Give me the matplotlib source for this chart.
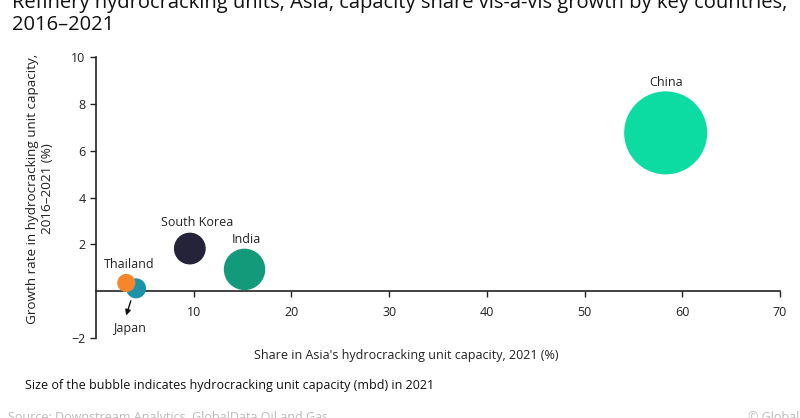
import matplotlib
matplotlib.use('Agg')
import matplotlib.pyplot as plt

# data
countries = ['Japan', 'Thailand', 'South Korea', 'India', 'China']
share_2021 = [4.1, 3.1, 9.6, 15.2, 58.3]          # % of Asia's capacity
growth = [0.12, 0.35, 1.82, 0.93, 6.76]           # % 2016-2021
capacity_mbd = [0.17, 0.14, 0.43, 0.73, 2.93]      # bubble size
colours = ['#1b93a9', '#f5862b', '#24233a', '#139a7b', '#0cdca2']

x_ticks = [10, 20, 30, 40, 50, 60, 70]
y_ticks = [-2, 2, 4, 6, 8, 10]

title_1 = 'Refinery hydrocracking units, Asia, capacity share vis-\u00e0-vis growth by key countries,'
title_2 = '2016\u20132021'

plt.rcParams['font.family'] = ['Open Sans', 'DejaVu Sans']

fig = plt.figure(figsize=(8, 4.18), dpi=100)
ax = fig.add_axes([0.12, 0.1914, 0.855, 0.6722])

ax.scatter(share_2021, growth, s=[c * 1220 for c in capacity_mbd], c=colours,
           edgecolors='none', zorder=3)

ax.set_xlim(0, 70)
ax.set_ylim(-2, 10)
ax.set_xticks(x_ticks)
ax.set_yticks(y_ticks)
ax.tick_params(labelsize=9, colors='#222222', length=4, width=1)
ax.tick_params(axis='x', pad=7)

ax.spines['top'].set_visible(False)
ax.spines['right'].set_visible(False)
ax.spines['bottom'].set_position(('data', 0))
for sp in ['left', 'bottom']:
    ax.spines[sp].set_linewidth(1.2)
    ax.spines[sp].set_color('#222222')

# labels next to bubbles
lab = dict(fontsize=9, color='#222222', ha='center', va='center')
ax.text(share_2021[4], 8.9, 'China', **lab)
ax.text(10.3, 2.95, 'South Korea', **lab)
ax.text(15.4, 2.2, 'India', **lab)
ax.text(3.4, 1.15, 'Thailand', **lab)
ax.text(3.4, -1.6, 'Japan', **lab)
ax.annotate('', xy=(3.0, -1.15), xytext=(3.65, -0.3),
            arrowprops=dict(arrowstyle='-|>', color='#111111', lw=1, mutation_scale=8))

ax.set_xlabel("Share in Asia's hydrocracking unit capacity, 2021 (%)", fontsize=9,
              color='#222222', labelpad=0)
ax.xaxis.set_label_coords(0.454, -0.04)
ax.set_ylabel('Growth rate in hydrocracking unit capacity,\n2016\u20132021 (%)', fontsize=9.7,
              color='#222222', linespacing=1.15)
ax.yaxis.set_label_coords(-0.062, 0.53)

fig.text(12 / 800, 1 - 8 / 418, title_1, fontsize=14.5, color='#111111', va='baseline')
fig.text(12 / 800, 1 - 30 / 418, title_2, fontsize=14.5, color='#111111', va='baseline')

fig.text(25 / 800, 1 - 386 / 418, 'Size of the bubble indicates hydrocracking unit capacity (mbd) in 2021',
         fontsize=9, color='#111111', va='center')

fig.text(8 / 800, 1 - 411 / 418, 'Source: Downstream Analytics, GlobalData Oil and Gas',
         fontsize=9, color='#bbbbbb', va='top')
fig.text(748 / 800, 1 - 411 / 418, '\u00a9 GlobalData',
         fontsize=9, color='#bbbbbb', va='top')

fig.savefig('out.png', dpi=100)
